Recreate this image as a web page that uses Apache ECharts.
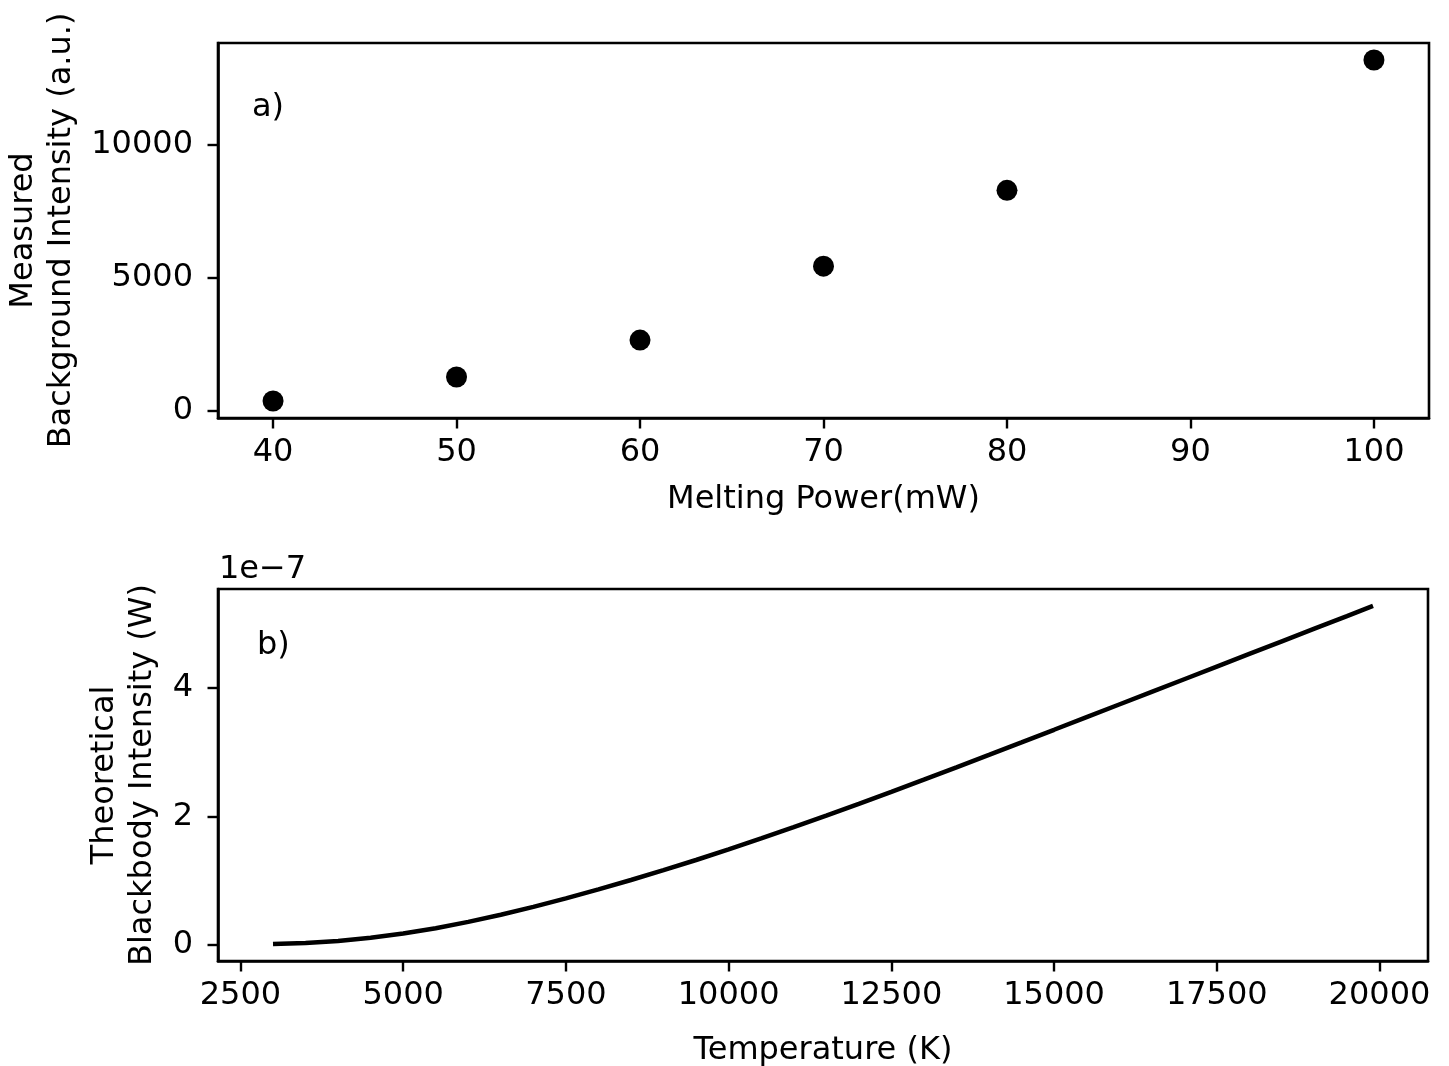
<!DOCTYPE html>
<html>
<head>
<meta charset="utf-8">
<script src="https://cdn.jsdelivr.net/npm/echarts@6/dist/echarts.min.js"></script>
<style>
html,body{margin:0;padding:0;background:#fff;}
#chart{width:1449px;height:1066px;}
</style>
</head>
<body>
<div id="chart"></div>
<script>
// ---- Data ----
const powerMW = [40, 50, 60, 70, 80, 100];
const measuredIntensity = [380, 1280, 2670, 5450, 8300, 13200];

const temperatureK = [3000, 3500, 4000, 4500, 5000, 5500, 6000, 6500, 7000, 7500, 8000, 8500, 9000, 9500, 10000,
  10500, 11000, 11500, 12000, 12500, 13000, 13500, 14000, 14500, 15000, 15500, 16000, 16500, 17000, 17500,
  18000, 18500, 19000, 19500, 19900];
// in units of 1e-7 W
const blackbodyE7 = [0.010, 0.026, 0.058, 0.108, 0.175, 0.258, 0.356, 0.468, 0.590, 0.722, 0.862, 1.009, 1.162, 1.321, 1.485,
  1.657, 1.833, 2.013, 2.197, 2.384, 2.574, 2.766, 2.960, 3.155, 3.351, 3.548, 3.745, 3.942, 4.139, 4.336,
  4.533, 4.730, 4.927, 5.124, 5.282];
const blackbodyW = blackbodyE7.map(v => v * 1e-7);

const topXTicks = [40, 50, 60, 70, 80, 90, 100];
const topYTicks = [0, 5000, 10000];
const botXTicks = [2500, 5000, 7500, 10000, 12500, 15000, 17500, 20000];
const botYTicks = [0, 2e-7, 4e-7];

// matplotlib-like autoscale margins (5%)
function lims(arr) {
  const mn = Math.min(...arr), mx = Math.max(...arr);
  const m = (mx - mn) * 0.05;
  return [mn - m, mx + m];
}
const tx = lims(powerMW), ty = lims(measuredIntensity);
const bx = lims(temperatureK), by = lims(blackbodyW);

const FONT = 'DejaVu Sans';
const FS = 32;
const black = '#000';

function axisCommon(ticks, fmt, margin) {
  return {
    axisLine: { show: true, onZero: false, lineStyle: { color: black, width: 2.6 } },
    axisTick: { show: true, inside: false, length: 10.5, lineStyle: { color: black, width: 2.4 }, customValues: ticks },
    axisLabel: { show: true, customValues: ticks, color: black, fontSize: FS, fontFamily: FONT, margin: margin, formatter: fmt },
    splitLine: { show: false },
    nameTextStyle: { color: black, fontSize: FS, fontFamily: FONT, lineHeight: 38 }
  };
}

const chart = echarts.init(document.getElementById('chart'), null, { renderer: 'canvas' });
const option = {
  backgroundColor: '#fff',
  animation: false,
  grid: [
    { left: 218, top: 43, width: 1211, height: 375, show: true, borderColor: black, borderWidth: 2.6,
      backgroundColor: 'transparent', outerBoundsMode: 'none', containLabel: false },
    { left: 218, top: 589, width: 1210, height: 372, show: true, borderColor: black, borderWidth: 2.6,
      backgroundColor: 'transparent', outerBoundsMode: 'none', containLabel: false }
  ],
  xAxis: [
    Object.assign({ type: 'value', gridIndex: 0, min: tx[0], max: tx[1],
      name: 'Melting Power(mW)', nameLocation: 'middle', nameGap: 63 },
      axisCommon(topXTicks, v => String(v), 19)),
    Object.assign({ type: 'value', gridIndex: 1, min: bx[0], max: bx[1],
      name: 'Temperature (K)', nameLocation: 'middle', nameGap: 71 },
      axisCommon(botXTicks, v => String(v), 19))
  ],
  yAxis: [
    Object.assign({ type: 'value', gridIndex: 0, min: ty[0], max: ty[1],
      name: 'Measured\nBackground Intensity (a.u.)', nameLocation: 'middle', nameRotate: 90, nameGap: 135 },
      axisCommon(topYTicks, v => String(v), 25)),
    Object.assign({ type: 'value', gridIndex: 1, min: by[0], max: by[1],
      name: 'Theoretical\nBlackbody Intensity (W)', nameLocation: 'middle', nameRotate: 90, nameGap: 49 },
      axisCommon(botYTicks, v => String(Math.round(v / 1e-7)), 25))
  ],
  series: [
    { type: 'scatter', xAxisIndex: 0, yAxisIndex: 0, symbol: 'circle', symbolSize: 21,
      itemStyle: { color: black, opacity: 1 }, data: powerMW.map((x, i) => [x, measuredIntensity[i]]) },
    { type: 'line', xAxisIndex: 1, yAxisIndex: 1, showSymbol: false, symbol: 'none', smooth: false,
      lineStyle: { color: black, width: 4.5 }, data: temperatureK.map((x, i) => [x, blackbodyW[i]]) }
  ],
  graphic: [
    { type: 'text', left: 252, top: 92, style: { text: 'a)', font: '32px "DejaVu Sans"', fill: black } },
    { type: 'text', left: 257, top: 630, style: { text: 'b)', font: '32px "DejaVu Sans"', fill: black } },
    { type: 'text', left: 219, top: 554, style: { text: '1e\u22127', font: '32px "DejaVu Sans"', fill: black } }
  ]
};
chart.setOption(option);
</script>
</body>
</html>
